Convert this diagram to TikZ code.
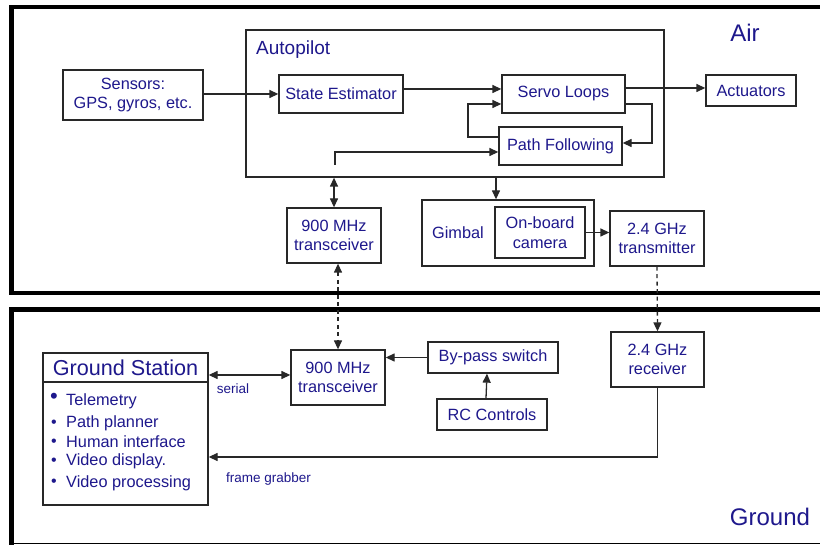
\documentclass[tikz,border=0pt]{standalone}
\usepackage{fontspec}
\setmainfont{Liberation Sans}
\usetikzlibrary{arrows.meta}
\definecolor{txtc}{RGB}{30,24,140}
\definecolor{linec}{RGB}{40,40,40}
\tikzset{
  box/.style={draw=linec, line width=1.3pt, text=txtc, align=center, inner sep=0pt,
    font=\fontsize{16.3}{19.5}\selectfont},
  plain/.style={text=txtc, inner sep=0pt},
  tip/.style={Triangle[length=9pt,width=8pt]},
  arr/.style={draw=linec, line width=1.3pt, -{Triangle[length=9pt,width=8pt]}},
  darr/.style={draw=linec, line width=1.3pt, {Triangle[length=9pt,width=8pt]}-{Triangle[length=9pt,width=8pt]}},
  wire/.style={draw=linec, line width=1.3pt},
  dsh/.style={dash pattern=on 4pt off 3.5pt},
  frame/.style={draw=black, line width=4.5pt},
}
\begin{document}
\begin{tikzpicture}[x=1pt,y=-1pt]
\clip (0,0) rectangle (820,545);
\fill[white] (0,0) rectangle (820,545);
% outer frames
\draw[frame] (830,7) -- (11.5,7) -- (11.5,293) -- (830,293);
\draw[frame] (830,309.5) -- (11.5,309.5) -- (11.5,545);
\draw[black, line width=1.2pt] (11.5,543.5) -- (830,543.5);
\node[plain, font=\fontsize{24}{26}\selectfont] (air) at (745,33) {Air};
\node[plain, font=\fontsize{24}{26}\selectfont] (ground) at (770,517) {Ground};
% air nodes
\node[box, minimum width=418pt, minimum height=147pt] (auto) at (455,103.5) {};
\node[plain, anchor=west, font=\fontsize{19}{21}\selectfont] (autolbl) at (256,50) {Autopilot};
\node[box, minimum width=140pt, minimum height=50pt] (sensors) at (133,95) {Sensors:\\GPS, gyros, etc.};
\node[box, minimum width=124pt, minimum height=38pt] (state) at (341,94) {State Estimator};
\node[box, minimum width=123pt, minimum height=38pt] (servo) at (563.5,94) {Servo Loops};
\node[box, minimum width=123pt, minimum height=38pt] (pathf) at (560.5,146) {Path Following};
\node[box, minimum width=90pt, minimum height=31pt] (act) at (751,90.5) {Actuators};
\node[box, minimum width=94pt, minimum height=55pt] (atx) at (334,235.5) {900 MHz\\transceiver};
\node[box, minimum width=172pt, minimum height=66pt] (gimbal) at (508,233) {};
\node[plain, font=\fontsize{16.3}{19}\selectfont] (gimlbl) at (458,233) {Gimbal};
\node[box, minimum width=90pt, minimum height=51pt] (cam) at (540,232.5) {On-board\\camera};
\node[box, minimum width=94pt, minimum height=55pt] (tx) at (657,238.5) {2.4 GHz\\transmitter};
% ground nodes
\node[box, minimum width=165pt, minimum height=152pt] (gs) at (125.5,429) {};
\node[plain, font=\fontsize{21.6}{24}\selectfont] (gstitle) at (125.5,368) {Ground Station};
\draw[wire] (gs.west |- 0,382) -- (gs.east |- 0,382);
\node[plain, font=\fontsize{22}{22}\selectfont] (b1) at (54,398) {•};
\node[plain, font=\fontsize{16}{16}\selectfont] (b2) at (54,424) {•};
\node[plain, font=\fontsize{16}{16}\selectfont] (b3) at (54,443) {•};
\node[plain, font=\fontsize{16}{16}\selectfont] (b4) at (54,462) {•};
\node[plain, font=\fontsize{16}{16}\selectfont] (b5) at (54,483) {•};
\node[plain, anchor=base west, font=\fontsize{16.3}{19}\selectfont] (i1) at (66,406) {Telemetry};
\node[plain, anchor=base west, font=\fontsize{16.3}{19}\selectfont] (i2) at (66,428) {Path planner};
\node[plain, anchor=base west, font=\fontsize{16.3}{19}\selectfont] (i3) at (66,447) {Human interface};
\node[plain, anchor=base west, font=\fontsize{16.3}{19}\selectfont] (i4) at (66,466) {Video display.};
\node[plain, anchor=base west, font=\fontsize{16.3}{19}\selectfont] (i5) at (66,487) {Video processing};
\node[box, minimum width=94pt, minimum height=55pt] (gtx) at (338,377.5) {900 MHz\\transceiver};
\node[box, minimum width=130pt, minimum height=31pt] (bypass) at (493,357.5) {By-pass switch};
\node[box, minimum width=110pt, minimum height=31pt] (rc) at (492,414.5) {RC Controls};
\node[box, minimum width=93pt, minimum height=55pt] (rx) at (657.5,359.5) {2.4 GHz\\receiver};
\node[plain, font=\fontsize{13.5}{15}\selectfont] (serial) at (233,389) {serial};
\node[plain, font=\fontsize{13.5}{15}\selectfont] (fg) at (268.5,479) {frame grabber};
% air connectors
\draw[arr] (sensors.east |- state.west) -- (state.west);
\draw[arr] ([yshift=5pt]state.east) -- ([yshift=5pt]servo.west);
\draw[arr] ([yshift=9pt]pathf.west) -| (468,104) -- ([yshift=-10pt]servo.west);
\draw[arr] ([yshift=-10pt]servo.east) -| (652,143) -- ([yshift=3pt]pathf.east);
\coordinate (apstart) at (335,165);
\draw[arr] (apstart) |- ([yshift=-6pt]pathf.west);
\draw[arr] ([yshift=6pt]servo.east) -- (act.west |- 0,88);
\draw[darr] (atx.north |- auto.south) -- (atx.north);
\draw[arr] ([xshift=-12pt]gimbal.north |- auto.south) -- ([xshift=-12pt]gimbal.north);
\draw[arr] (cam.east) -- (tx.west |- cam.east);
\draw[arr, dsh] (tx.south) -- (rx.north);
\draw[darr, dsh] ([xshift=4pt]atx.south) -- (gtx.north);
% ground connectors
\draw[darr] (gs.east |- 0,375) -- (gtx.west |- 0,375);
\draw[arr] (bypass.west) -- (gtx.east |- bypass.west);
\draw[arr] ([xshift=-6pt]rc.north) -- ([xshift=-6pt]bypass.south);
\draw[arr] (rx.south) |- ([yshift=-28pt]gs.east);
\end{tikzpicture}
\end{document}
